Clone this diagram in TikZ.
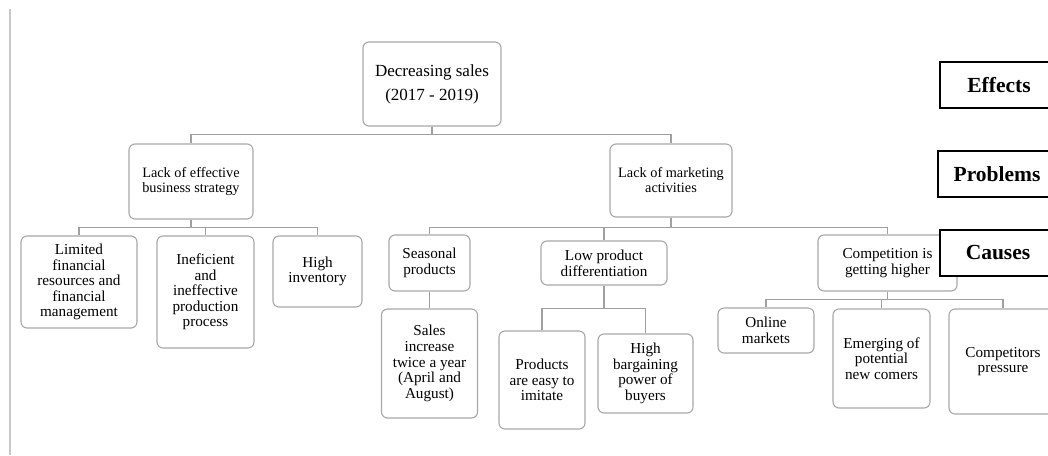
\documentclass[tikz,border=0pt]{standalone}
\usepackage{fontspec}
\setmainfont{Liberation Serif}
\tikzset{
  box/.style={draw=boxgray, line width=1.1pt, rounded corners=6pt, fill=white, align=center, inner sep=1pt, anchor=center},
  lbl/.style={draw=black, line width=1.1pt, fill=white, align=center, inner sep=1pt, font=\fontsize{21.5}{24}\selectfont\bfseries},
  conn/.style={draw=linegray, line width=1.3pt},
  ftop/.style={font=\fontsize{17}{24}\selectfont},
  fmid/.style={font=\fontsize{14.3}{15}\selectfont},
  fsub/.style={font=\fontsize{15.2}{15.6}\selectfont}
}
\definecolor{boxgray}{HTML}{A8A8A8}
\definecolor{linegray}{HTML}{A0A0A0}
\definecolor{edgegray}{HTML}{C8C8C8}
\begin{document}
\begin{tikzpicture}[x=1pt,y=-1pt]
\useasboundingbox (0,0) rectangle (1048,455);
\fill[white] (0,0) rectangle (1048,455);
\coordinate (eTop) at (10,9);
\coordinate (eBot) at (10,455);
\draw[draw=edgegray, line width=1.4pt] (eTop) -- (eBot);

% effects
\node[box, ftop, minimum width=138pt, minimum height=84pt] (top) at (432,84) {Decreasing sales\\(2017 - 2019)};

% problems
\node[box, fmid, minimum width=124pt, minimum height=75pt] (lackeff) at (191,181.5) {Lack of effective\\business strategy};
\node[box, fmid, minimum width=122pt, minimum height=73pt] (lackmkt) at (671,180.5) {Lack of marketing\\activities};

% causes left
\node[box, fsub, minimum width=116pt, minimum height=92pt] (limited) at (79,282) {Limited\\financial\\resources and\\financial\\management};
\node[box, fsub, minimum width=97pt, minimum height=112pt] (inef) at (205.5,292) {Ineficient\\and\\ineffective\\production\\process};
\node[box, fsub, minimum width=89pt, minimum height=71pt] (highinv) at (317.5,271.5) {High\\inventory};

% causes right
\node[box, fsub, minimum width=81pt, minimum height=56pt] (seasonal) at (429.5,263) {Seasonal\\products};
\node[box, fsub, minimum width=96pt, minimum height=109pt] (sales) at (429.5,363.5) {Sales\\increase\\twice a year\\(April and\\August)};
\node[box, fsub, minimum width=126pt, minimum height=44pt] (lowprod) at (604,263) {Low product\\differentiation};
\node[box, fsub, minimum width=86pt, minimum height=98pt] (products) at (542,380) {Products\\are easy to\\imitate};
\node[box, fsub, minimum width=95pt, minimum height=79pt] (bargain) at (645.5,373.5) {High\\bargaining\\power of\\buyers};
\node[box, fsub, minimum width=139pt, minimum height=56pt] (compet) at (887.5,263) {Competition is\\getting higher};
\node[box, fsub, minimum width=96pt, minimum height=45pt] (online) at (766,330.5) {Online\\markets};
\node[box, fsub, minimum width=97pt, minimum height=99pt] (emerging) at (881.5,358.5) {Emerging of\\potential\\new comers};
\node[box, fsub, minimum width=108pt, minimum height=105pt] (competitors) at (1003,361.5) {Competitors\\pressure};

% connectors
\draw[conn] (top.south) -- ++(0,8) -| (lackeff.north);
\draw[conn] (top.south) -- ++(0,8) -| (lackmkt.north);
\draw[conn] (lackeff.south) -- ++(0,8) -| (limited.north);
\draw[conn] (lackeff.south) -- ++(0,8) -| (inef.north);
\draw[conn] (lackeff.south) -- ++(0,8) -| (highinv.north);
\draw[conn] (lackmkt.south) -- ++(0,10) -| (seasonal.north);
\draw[conn] (lackmkt.south) -- ++(0,10) -| (lowprod.north);
\draw[conn] (lackmkt.south) -- ++(0,10) -| (compet.north);
\draw[conn] (seasonal.south) -- (sales.north);
\draw[conn] (lowprod.south) -- ++(0,23) -| (products.north);
\draw[conn] (lowprod.south) -- ++(0,23) -| (bargain.north);
\draw[conn] (compet.south) -- ++(0,8) -| (online.north);
\draw[conn] (compet.south) -- ++(0,8) -| (emerging.north);
\draw[conn] (compet.south) -- ++(0,8) -| (competitors.north);

% level labels
\node[lbl, minimum width=118pt, minimum height=46pt] (effects) at (999,85) {Effects};
\node[lbl, minimum width=118pt, minimum height=46pt] (problems) at (997,174) {Problems};
\node[lbl, minimum width=116pt, minimum height=46pt] (causes) at (998,253) {Causes};
\end{tikzpicture}
\end{document}
